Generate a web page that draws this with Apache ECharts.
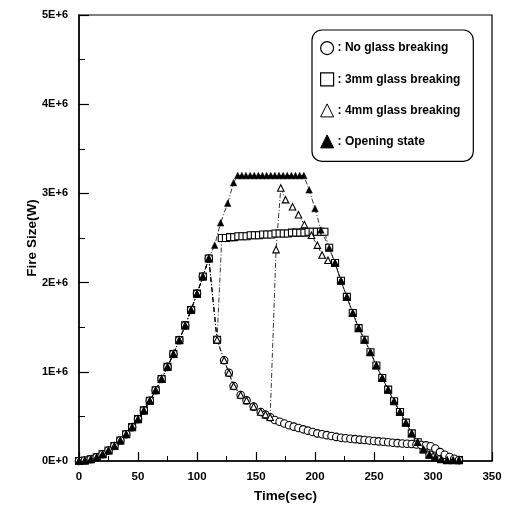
<!DOCTYPE html>
<html>
<head>
<meta charset="utf-8">
<script src="https://cdn.jsdelivr.net/npm/echarts@6/dist/echarts.min.js"></script>
<style>
html,body{margin:0;padding:0;background:#fff;}
#chart{width:507px;height:511px;}
</style>
</head>
<body>
<div id="chart"></div>
<script>
// ---- Data (time in s, fire size in MW = E+6 W) ----
const xTicks = [0, 50, 100, 150, 200, 250, 300, 350];
const yTicks = ['0E+0', '1E+6', '2E+6', '3E+6', '4E+6', '5E+6'];

// shared t-squared growth phase
const growthTime  = [0,5,10,15,20,25,30,35,40,45,50,55,60,65,70,75,80,85,90,95,100,105,110];
const growthPower = [0,0.005,0.019,0.042,0.075,0.117,0.169,0.23,0.30,0.38,0.469,0.567,0.675,0.793,0.919,1.055,1.20,1.355,1.52,1.693,1.876,2.068,2.27];

// no glass breaking: drop and decay
const noBreakTime  = [117,123,127,131,137,142,148,154,158,162,166,170,174,178,182,186,190,194,198,202,206,210,214,218,222,226,230,234,238,242,246,250,254,258,262,266,270,274,278,282,286,290,294,298,302,306,310,314,318,322];
const noBreakPower = [1.36,1.13,0.99,0.84,0.74,0.68,0.61,0.55,0.52,0.49,0.46,0.44,0.42,0.40,0.385,0.37,0.355,0.34,0.325,0.31,0.30,0.29,0.28,0.27,0.26,0.255,0.25,0.245,0.24,0.235,0.23,0.225,0.22,0.215,0.21,0.205,0.20,0.197,0.193,0.19,0.185,0.18,0.175,0.165,0.14,0.10,0.07,0.045,0.025,0.01];

// 3mm glass breaking: drop, jump, plateau
const mm3Time  = [117,121,124.5,128,131.5,135,138.5,142,145.5,149,152.5,156,159.5,163,166.5,170,173.5,177,180.5,184,187.5,191,194.5,198,201.5,205,208];
const mm3Power = [1.36,2.50,2.50,2.51,2.51,2.52,2.52,2.52,2.53,2.53,2.53,2.54,2.54,2.54,2.55,2.55,2.55,2.55,2.56,2.56,2.56,2.56,2.57,2.57,2.57,2.57,2.57];

// 4mm glass breaking: jump after 162 s
const mm4Time  = [167,171,175,181,186,191,197,202,206,211];
const mm4Power = [2.37,3.06,2.93,2.85,2.76,2.65,2.53,2.42,2.31,2.25];

// opening state
const openTime  = [115,120,126,131,134.5,138,141.5,145,148.5,152,155.5,159,162.5,166,169.5,173,176.5,180,183.5,187,190.5,195,200,205];
const openPower = [2.42,2.67,2.89,3.12,3.2,3.2,3.2,3.2,3.2,3.2,3.2,3.2,3.2,3.2,3.2,3.2,3.2,3.2,3.2,3.2,3.2,3.04,2.83,2.59];

// shared fuel-limited decay
const decayTime  = [212,217,222,227,232,237,242,247,252,257,262,267,272,277,282,287,292,297,302,307,312,317,322];
const decayPower = [2.39,2.22,2.02,1.84,1.66,1.49,1.36,1.22,1.07,0.93,0.80,0.67,0.55,0.43,0.31,0.21,0.13,0.07,0.04,0.02,0.01,0.01,0.01];

const names = [': No glass breaking', ': 3mm glass breaking', ': 4mm glass breaking', ': Opening state'];

function pairs(t, p, keep) {
  const out = [];
  for (let i = 0; i < t.length; i++) if (!keep || keep(t[i])) out.push([t[i], p[i]]);
  return out;
}
const growth = pairs(growthTime, growthPower);
const noBreakData = growth.concat(pairs(noBreakTime, noBreakPower));
const mm3Data = growth.concat(pairs(mm3Time, mm3Power), pairs(decayTime, decayPower));
const mm4Data = growth.concat(pairs(noBreakTime, noBreakPower, t => t <= 162), pairs(mm4Time, mm4Power), pairs(decayTime, decayPower, t => t >= 217));
const openData = growth.concat(pairs(openTime, openPower), pairs(decayTime, decayPower));

const font = '"Liberation Sans", Arial, sans-serif';
const lineStyle = { color: '#000', width: 0.8, type: [5, 2, 1, 2] };
const hollow = { color: '#fff', borderColor: '#000', borderWidth: 1.1 };

function mk(name, data, symbol, size, itemStyle) {
  return {
    type: 'line', name, data, symbol, symbolSize: size, showAllSymbol: true,
    itemStyle, lineStyle, animation: false, z: 3
  };
}

const chart = echarts.init(document.getElementById('chart'), null, { renderer: 'canvas' });
chart.setOption({
  backgroundColor: '#fff',
  animation: false,
  grid: { left: 79, right: 15, top: 15, bottom: 50, show: true, borderColor: '#000', borderWidth: 1.2, backgroundColor: 'transparent' },
  legend: {
    orient: 'vertical', left: 312, top: 30,
    backgroundColor: '#fff',
    borderColor: '#000', borderWidth: 1.2, borderRadius: 10,
    padding: [11, 13, 13, 8],
    itemGap: 17, itemWidth: 13, itemHeight: 13,
    textStyle: { fontFamily: font, fontWeight: 'bold', fontSize: 12, color: '#000', padding: [0, 0, 0, -1] },
    data: [
      { name: names[0], icon: 'circle', itemStyle: { color: '#fff', borderColor: '#000', borderWidth: 1.2 } },
      { name: names[1], icon: 'rect', itemStyle: { color: '#fff', borderColor: '#000', borderWidth: 1.2 } },
      { name: names[2], icon: 'triangle', itemStyle: { color: '#fff', borderColor: '#000', borderWidth: 1 } },
      { name: names[3], icon: 'triangle', itemStyle: { color: '#000', borderColor: '#000', borderWidth: 1 } }
    ]
  },
  xAxis: {
    type: 'value', min: 0, max: 350, interval: 50,
    name: 'Time(sec)', nameLocation: 'middle', nameGap: 28,
    nameTextStyle: { fontFamily: font, fontWeight: 'bold', fontSize: 13.5, color: '#000' },
    axisLine: { show: true, lineStyle: { color: '#000', width: 1.5 } },
    axisTick: { show: true, inside: true, length: 9, lineStyle: { color: '#000', width: 1.2 } },
    minorTick: { show: true, splitNumber: 2, length: 5, lineStyle: { color: '#000', width: 1 } },
    splitLine: { show: false },
    axisLabel: { fontFamily: font, fontWeight: 'bold', fontSize: 11.5, color: '#000', margin: 10,
      formatter: v => xTicks.includes(v) ? String(v) : '' }
  },
  yAxis: {
    type: 'value', min: 0, max: 5, interval: 1,
    name: 'Fire Size(W)', nameLocation: 'middle', nameGap: 40, nameRotate: 90, nameMoveOverlap: false,
    nameTextStyle: { fontFamily: font, fontWeight: 'bold', fontSize: 13.5, color: '#000' },
    axisLine: { show: true, lineStyle: { color: '#000', width: 1.5 } },
    axisTick: { show: true, inside: true, length: 10, lineStyle: { color: '#000', width: 1.2 } },
    minorTick: { show: true, splitNumber: 2, length: 6, lineStyle: { color: '#000', width: 1 } },
    splitLine: { show: false },
    axisLabel: { fontFamily: font, fontWeight: 'bold', fontSize: 11, color: '#000', margin: 11,
      formatter: v => yTicks[Math.round(v)] }
  },
  series: [
    mk(names[1], mm3Data, 'rect', 7, hollow),
    mk(names[0], noBreakData, 'circle', 7.5, hollow),
    mk(names[2], mm4Data, 'triangle', 6.5, hollow),
    mk(names[3], openData, 'triangle', 6.5, { color: '#000', borderColor: '#000', borderWidth: 0.5 })
  ]
});
</script>
</body>
</html>
